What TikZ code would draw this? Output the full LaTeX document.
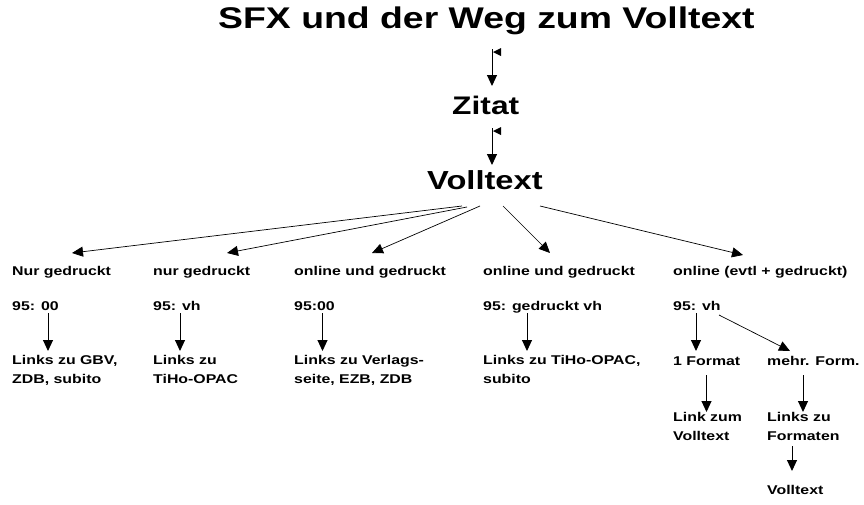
\documentclass[tikz,border=0pt]{standalone}
\usepackage{fontspec}
\setmainfont{Liberation Sans}[FakeStretch=1.25]
\usetikzlibrary{arrows.meta}
\newcommand{\twoln}[2]{\vtop{\hbox{#1}\hbox{#2}}}
\begin{document}
\begin{tikzpicture}[x=1pt,y=-1pt,
  lbl/.style={anchor=base west,inner sep=0pt,font=\fontsize{12.7}{19}\selectfont\bfseries},
  big/.style={anchor=base west,inner sep=0pt},
  arr/.style={line width=1pt,-{Triangle[width=10pt,length=11pt]}},
  fan/.style={line width=0.7pt,-{Triangle[width=10pt,length=11pt]}},
  flag/.style={fill=black}]
\useasboundingbox[fill=white] (0,0) rectangle (864,504);
% titles
\node[big,font=\fontsize{29.9}{30}\selectfont\bfseries] (title) at (218,28) {SFX und der Weg zum Volltext};
\node[big,font=\fontsize{25.4}{26}\selectfont\bfseries] (zitat) at (452,114) {Zitat};
\node[big,font=\fontsize{26.1}{27}\selectfont\bfseries] (voll) at (427,189) {Volltext};
% top connectors
\coordinate (t1) at (492,49);
\coordinate (z1) at (492,86);
\draw[arr] (t1) -- (z1);
\fill[flag] (493,52) -- (501,48) -- (501,56) -- cycle;
\coordinate (t2) at (492,128);
\coordinate (z2) at (492,165);
\draw[arr] (t2) -- (z2);
\fill[flag] (493,131) -- (501,127) -- (501,135) -- cycle;
% row 1
\node[lbl] (a1) at (12,275) {Nur gedruckt};
\node[lbl] (b1) at (153,275) {nur gedruckt};
\node[lbl] (c1) at (294,275) {online und gedruckt};
\node[lbl] (d1) at (483,275) {online und gedruckt};
\node[lbl] (e1) at (673,275) {online (evtl + gedruckt)};
% fan
\coordinate (va) at (462,206); \coordinate (ta) at (72,253);
\coordinate (vb) at (467,207); \coordinate (tb) at (227,253);
\coordinate (vc) at (480,206); \coordinate (tc) at (372,253);
\coordinate (vd) at (503,206); \coordinate (td) at (550,253);
\coordinate (ve) at (540,206); \coordinate (te) at (743,255);
\draw[fan] (va) -- (ta);
\draw[fan] (vb) -- (tb);
\draw[fan] (vc) -- (tc);
\draw[fan] (vd) -- (td);
\draw[fan] (ve) -- (te);
% row 2
\node[lbl] (a2) at (12,310) {95: 00};
\node[lbl] (b2) at (153,310) {95: vh};
\node[lbl] (c2) at (294,310) {95:00};
\node[lbl] (d2) at (483,310) {95: gedruckt vh};
\node[lbl] (e2) at (673,310) {95: vh};
% row 3
\node[lbl] (a3) at (12,364.5) {\twoln{Links zu GBV,}{ZDB, subito}};
\node[lbl] (b3) at (153,364.5) {\twoln{Links zu}{TiHo-OPAC}};
\node[lbl] (c3) at (294,364.5) {\twoln{Links zu Verlags-}{seite, EZB, ZDB}};
\node[lbl] (d3) at (483,364.5) {\twoln{Links zu TiHo-OPAC,}{subito}};
\node[lbl] (e3) at (673,365) {1 Format};
\node[lbl] (f3) at (767,365) {mehr. Form.};
% vertical arrows row2->row3
\coordinate (sa) at (48,313); \coordinate (ea) at (48,351);
\coordinate (sb) at (180,313); \coordinate (eb) at (180,351);
\coordinate (sc) at (322.5,313); \coordinate (ec) at (322.5,351);
\coordinate (sd) at (527,313); \coordinate (ed) at (527,351);
\coordinate (se) at (696,313); \coordinate (ee) at (696,351);
\coordinate (sf) at (719,315); \coordinate (ef) at (790,351);
\draw[arr] (sa) -- (ea);
\draw[arr] (sb) -- (eb);
\draw[arr] (sc) -- (ec);
\draw[arr] (sd) -- (ed);
\draw[arr] (se) -- (ee);
\draw[fan] (sf) -- (ef);
% row 4
\node[lbl] (e4) at (673,421) {\twoln{Link zum}{Volltext}};
\node[lbl] (f4) at (767,421) {\twoln{Links zu}{Formaten}};
\coordinate (sg) at (706.5,375); \coordinate (eg) at (706.5,412);
\coordinate (sh) at (803,375); \coordinate (eh) at (803,412);
\draw[arr] (sg) -- (eg);
\draw[arr] (sh) -- (eh);
% row 5
\node[lbl] (f5) at (767,494) {Volltext};
\coordinate (si) at (792,446); \coordinate (ei) at (792,471);
\draw[arr] (si) -- (ei);
\end{tikzpicture}
\end{document}
